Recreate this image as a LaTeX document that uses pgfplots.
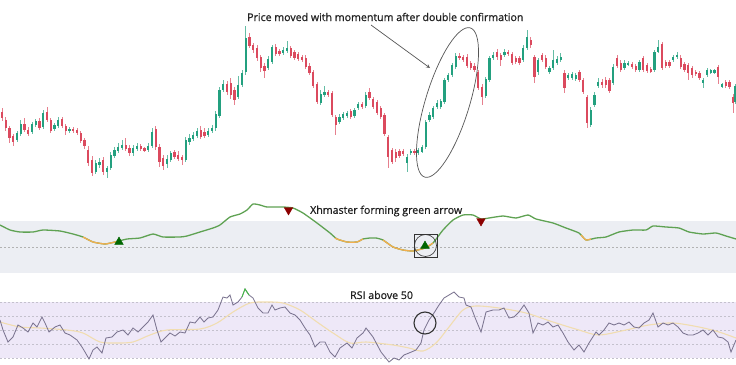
\documentclass[border=0pt]{standalone}
\usepackage{pgfplots}
\pgfplotsset{compat=1.18}
\usepackage{pgfplotstable}
\usepackage{fontspec}
\setmainfont{Open Sans}
\newfontfamily\annfont[FakeBold=1]{Open Sans}
\definecolor{cup}{HTML}{23A07F}
\definecolor{cdn}{HTML}{DB4A5E}
\definecolor{indg}{HTML}{5FA253}
\definecolor{indo}{HTML}{F2AE4E}
\definecolor{bandg}{HTML}{ECEEF3}
\definecolor{bandp}{HTML}{EEE8F8}
\definecolor{rsil}{HTML}{7C7591}
\definecolor{rsim}{HTML}{F1DDB0}
\definecolor{txt}{HTML}{222222}
\definecolor{ann}{HTML}{555555}

% candles in pixel coordinates (y grows downward): x open close high low
\pgfplotstableread{
x o c h l
2 112 118 108 121
5.7 120 128 117 131
9.5 128 138 126 143
13.2 136 142 134 146
24.5 124 130 118 132
28.2 130 134 127 136
39.5 121 128 118 130
47 112 120 107 122
50.7 120 131 118 133
62 119 126 117 128
65.7 126 131 124 135
73.2 129 131 127 133
77 130 133 128 135
80.7 133 141 131 143
84.5 140 146 138 149
88.2 150 163 146 166
92 160 173 156 176
103.2 160 172 157 175
125.7 145 149 138 151
129.5 148 153 145 156
140.7 146 149 144 151
144.5 148 151 147 152
155.7 129 147 126 150
159.5 147 162 144 167
163.2 158 166 155 170
174.5 152 157 150 159
178.2 155 159 151 161
182 157 160 155 165
200.7 130 137 126 139
204.5 132 136 128 138
227 84 92 81 95
230.7 83 95 78 99
234.5 90 100 87 105
249.5 37 46 33 48
253.2 45 50 43 53
257 48 58 45 61
260.7 57 68 55 72
264.5 66 71 63 78
275.7 47 54 44 56
279.5 51 54 49 56
290.7 48 56 46 58
294.5 52 58 50 60
298.2 54 59 52 61
302 57 60 55 62
305.7 58 67 55 69
309.5 66 73 63 75
313.2 72 86 70 88
317 84 102 82 104
328.2 92 95 90 97
332 93 115 91 117
335.7 117 125 115 135
350.7 111 117 109 119
362 104 107 102 109
369.5 92 98 88 100
373.2 99 107 97 109
377 102 113 100 115
380.7 108 117 106 119
384.5 115 134 113 136
388.2 137 157 135 168
392 150 162 148 164
395.7 152 158 149 162
399.5 151 156 149 158
403.2 151 154 149 156
414.5 151 153 149 155
459.5 56 58 53 60
463.2 57 60 55 62
467 57 66 54 68
470.7 63 68 61 70
474.5 66 70 63 72
478.2 72 88 70 90
482 87 97 84 105
497 52 57 49 60
500.7 55 60 53 66
508.2 52 54 50 56
512 54 63 52 65
515.7 58 62 56 64
519.5 58 63 56 65
530.7 40 45 37 48
534.5 57 77 55 83
542 55 60 53 62
545.7 58 67 55 69
564.5 73 88 70 93
579.5 72 80 70 82
583.2 80 92 78 94
587 97 123 95 128
602 82 85 79 88
605.7 80 85 77 88
609.5 80 91 78 93
617 58 66 55 68
620.7 63 70 60 72
632 64 67 62 69
635.7 66 70 64 72
643.2 58 70 56 72
647 65 71 63 73
650.7 69 72 67 73
662 44 68 42 70
665.7 62 66 60 68
669.5 62 66 60 68
680.7 58 67 55 69
684.5 64 70 62 72
688.2 65 73 63 80
692 68 75 66 78
695.7 72 74 70 76
699.5 73 78 71 80
718.2 67 77 65 84
725.7 82 86 80 88
729.5 82 87 80 89
733.2 97 103 94 113
}\dncandles

\pgfplotstableread{
x o c h l
17 140 133 131 142
20.7 134 124 120 136
32 132 124 122 134
35.7 125 121 119 127
43.2 127 113 110 129
54.5 129 125 123 131
58.2 126 120 117 128
69.5 131 129 127 133
95.7 172 163 160 174
99.5 165 162 158 168
107 172 168 166 178
110.7 168 155 152 170
114.5 156 150 147 158
118.2 151 147 143 153
122 148 145 140 150
133.2 153 148 145 156
137 149 146 143 151
148.2 150 146 143 152
152 146 132 128 148
167 164 159 155 168
170.7 160 153 151 162
185.7 160 140 137 162
189.5 142 138 134 145
193.2 139 135 132 141
197 136 131 128 138
208.2 135 131 128 137
212 131 128 125 133
215.7 128 114 111 131
219.5 116 90 87 118
223.2 90 84 80 92
238.2 97 85 76 99
242 85 73 70 87
245.7 72 38 26 75
268.2 68 59 56 70
272 62 47 45 64
283.2 53 50 47 55
287 51 48 41 53
320.7 103 94 90 105
324.5 95 92 86 97
339.5 122 117 114 124
343.2 118 114 112 120
347 116 113 111 118
354.5 116 110 108 118
358.2 108 104 102 110
365.7 106 95 92 108
407 163 157 154 172
410.7 153 151 149 155
418.2 153 150 148 155
422 152 147 145 153
425.7 147 122 120 149
429.5 120 115 112 122
433.2 117 108 106 119
437 107 103 100 109
440.7 107 101 99 109
444.5 102 80 78 104
448.2 80 75 73 82
452 75 65 63 77
455.7 67 56 53 69
485.7 96 79 77 98
489.5 80 58 56 82
493.2 58 55 52 60
504.5 55 52 49 57
523.2 60 48 45 62
527 48 37 30 50
538.2 72 60 58 75
549.5 72 68 66 74
553.2 68 60 50 70
557 63 59 56 65
560.7 60 57 53 62
568.2 78 75 73 80
572 78 74 72 80
575.7 79 75 73 81
590.7 125 110 107 127
594.5 105 95 92 107
598.2 86 82 78 88
613.2 83 67 64 85
624.5 68 63 60 70
628.2 65 63 61 66
639.5 70 62 60 72
654.5 70 52 50 72
658.2 52 47 40 53
673.2 60 57 55 62
677 57 55 52 59
703.2 83 80 78 88
707 75 70 68 77
710.7 73 70 69 74
714.5 73 70 69 74
722 87 84 83 88
735.5 102 86 84 104
}\upcandles

\begin{document}
\begin{tikzpicture}
\begin{axis}[
  name=main,
  x=1pt, y=1pt, scale only axis,
  xmin=0, xmax=736, ymin=0, ymax=364, y dir=reverse,
  hide axis, clip=true,
]
% panels
\addplot[fill=bandg, draw=none] coordinates {(0,221) (736,221) (736,273) (0,273)} -- cycle;
\addplot[fill=bandp, draw=none] coordinates {(0,302) (736,302) (736,358) (0,358)} -- cycle;
\addplot[draw=gray!60, line width=0.6pt, dash pattern=on 2pt off 2pt] coordinates {(0,247) (736,247)};
\addplot[draw=rsil!45, line width=0.5pt, dash pattern=on 2pt off 2pt] coordinates {(0,302) (736,302)};
\addplot[draw=rsil!45, line width=0.5pt, dash pattern=on 2pt off 2pt] coordinates {(0,316) (736,316)};
\addplot[draw=rsil!45, line width=0.5pt, dash pattern=on 2pt off 2pt] coordinates {(0,330) (736,330)};
\addplot[draw=rsil!45, line width=0.5pt, dash pattern=on 2pt off 2pt] coordinates {(0,344) (736,344)};
\addplot[draw=rsil!45, line width=0.5pt, dash pattern=on 2pt off 2pt] coordinates {(0,358) (736,358)};

% candles: wicks then bodies
\addplot[draw=none, mark=none, error bars/.cd, y dir=plus, y explicit, error mark=none,
  error bar style={draw=cdn!70, line width=0.7pt}]
  table[x=x, y=h, y error expr={\thisrow{l}-\thisrow{h}}] {\dncandles};
\addplot[draw=none, mark=none, error bars/.cd, y dir=plus, y explicit, error mark=none,
  error bar style={draw=cup!70, line width=0.7pt}]
  table[x=x, y=h, y error expr={\thisrow{l}-\thisrow{h}}] {\upcandles};
\addplot[draw=none, mark=none, error bars/.cd, y dir=plus, y explicit, error mark=none,
  error bar style={draw=cdn, line width=2.4pt}]
  table[x=x, y=o, y error expr={\thisrow{c}-\thisrow{o}}] {\dncandles};
\addplot[draw=none, mark=none, error bars/.cd, y dir=plus, y explicit, error mark=none,
  error bar style={draw=cup, line width=2.4pt}]
  table[x=x, y=c, y error expr={\thisrow{o}-\thisrow{c}}] {\upcandles};

% indicator
\addplot[indg, line width=1.3pt, smooth, tension=0.3] coordinates {
(0,225)(10,230)(20,232)(33,232)(43,230)(60,231)(73,234)(83,237)(93,242)(105,244)(115,242)(127,239)(140,238)(153,234)(163,237)(180,237)(187,236)(200,232)(213,228)(220,225)(230,217)(240,214)(247,210)(253,204)(260,205)(267,207)(283,207)(293,208)(303,213)(317,223)(330,233)(337,239)(347,242)(357,242)(363,239)(370,238)(376,238)(383,240)(393,247)(403,250)(413,251)(425,248)(433,243)(443,230)(453,220)(463,215)(473,215)(481,219)(489,218)(503,216)(516,218)(528,215)(536,219)(553,223)(566,228)(579,233)(586,240)(596,238)(606,237)(619,232)(633,230)(646,230)(653,226)(666,227)(679,228)(689,232)(703,234)(716,233)(726,236)(736,239)};
\addplot[indo, line width=1.3pt, smooth, tension=0.3] coordinates {(83,237)(93,242)(105,244)(115,242)(119,241)};
\addplot[indo, line width=1.3pt, smooth, tension=0.3] coordinates {(335,238)(337,239)(347,242)(357,242)(363,239)};
\addplot[indo, line width=1.3pt, smooth, tension=0.3] coordinates {(383,240)(393,247)(403,250)(413,251)(425,248)(433,243)};
\addplot[indo, line width=1.3pt, smooth, tension=0.3] coordinates {(581,235)(586,240)(591,239)};
\addplot[only marks, mark=triangle*, mark size=5pt, mark options={fill=green!40!black, draw=green!40!black}] coordinates {(119,242) (425,246)};
\addplot[only marks, mark=triangle*, mark size=5pt, mark options={fill=red!55!black, draw=red!55!black, rotate=180}] coordinates {(288.5,210) (481,221)};

% RSI moving average
\addplot[rsim, line width=1.1pt, smooth] coordinates {
(0,322)(20,327)(40,328)(67,330)(83,333)(100,342)(117,343)(133,342)(150,335)(167,330)(200,329)(217,323)(233,312)(250,303)(267,302)(283,303)(300,310)(317,322)(333,333)(350,343)(366,342)(393,345)(409,348)(423,351)(436,343)(449,327)(463,310)(476,306)(499,308)(526,313)(553,322)(579,330)(599,335)(626,330)(649,325)(673,323)(699,327)(719,332)(736,338)};
% RSI
\addplot[rsil, line width=0.85pt] coordinates {
(0,320)(3,330)(8,342)(13,337)(18,325)(23,328)(28,332)(33,323)(37,327)(42,317)(45,323)(49,332)(55,327)(60,325)(65,333)(70,335)(77,340)(82,347)(85,352)(89,359)(93,350)(97,347)(102,353)(106,338)(112,337)(117,332)(123,330)(128,335)(133,328)(138,332)(143,327)(148,322)(153,315)(157,330)(161,342)(165,338)(170,333)(175,336)(180,332)(185,333)(190,322)(195,323)(200,317)(204,322)(208,318)(213,317)(218,310)(223,297)(227,298)(230,295)(233,305)(238,302)(242,297)(245,289)(249,295)(253,298)(258,308)(263,313)(268,313)(272,305)(275,310)(280,308)(285,307)(290,313)(295,315)(300,320)(305,328)(310,335)(315,347)(320,342)(325,342)(330,352)(335,357)(340,348)(347,343)(352,348)(357,338)(363,333)(366,328)(373,337)(381,352)(389,362)(394,358)(399,360)(404,355)(409,353)(416,350)(421,343)(424,330)(429,320)(434,313)(439,305)(444,298)(449,295)(454,292)(459,297)(464,298)(466,305)(471,307)(476,320)(481,332)(486,312)(493,310)(499,310)(504,308)(509,318)(514,317)(519,312)(524,305)(529,313)(533,333)(538,323)(543,325)(548,322)(553,327)(558,325)(563,333)(568,342)(574,350)(579,345)(584,352)(589,343)(596,332)(599,335)(604,330)(609,323)(614,325)(619,323)(624,325)(629,322)(634,327)(639,328)(644,323)(649,320)(653,313)(658,327)(663,323)(668,325)(673,323)(678,327)(683,333)(688,335)(693,335)(698,333)(703,330)(708,335)(713,330)(718,337)(723,338)(728,342)(731,352)(736,340)};
\addplot[green!50!gray, line width=0.85pt] coordinates {(242,297)(245,289)(249,295)};

% annotations
\draw[ann, line width=0.7pt] (axis cs:447.5,102.5) ellipse [x radius=22pt, y radius=78pt, rotate=-17];
\draw[ann, line width=0.7pt, -stealth] (axis cs:371,25) -- (axis cs:430,68);
\draw[black!80, line width=0.7pt] (axis cs:414,234) rectangle (axis cs:437,257);
\draw[black!80, line width=0.6pt] (axis cs:425.5,245.5) circle [radius=11pt];
\draw[black!80, line width=1.1pt] (axis cs:425,323) circle [radius=11pt];
\node[anchor=west, text=txt, font=\annfont\fontsize{10.6}{12}\selectfont, inner sep=0pt] at (axis cs:247,17) {Price moved with momentum after double confirmation};
\node[anchor=west, text=txt, font=\annfont\fontsize{10.6}{12}\selectfont, inner sep=0pt] at (axis cs:310,211) {Xhmaster forming green arrow};
\node[anchor=west, text=txt, font=\annfont\fontsize{10.6}{12}\selectfont, inner sep=0pt] at (axis cs:350,295) {RSI above 50};
\end{axis}
\pgfresetboundingbox
\path[use as bounding box] (main.south west) rectangle (main.north east);
\end{tikzpicture}
\end{document}
